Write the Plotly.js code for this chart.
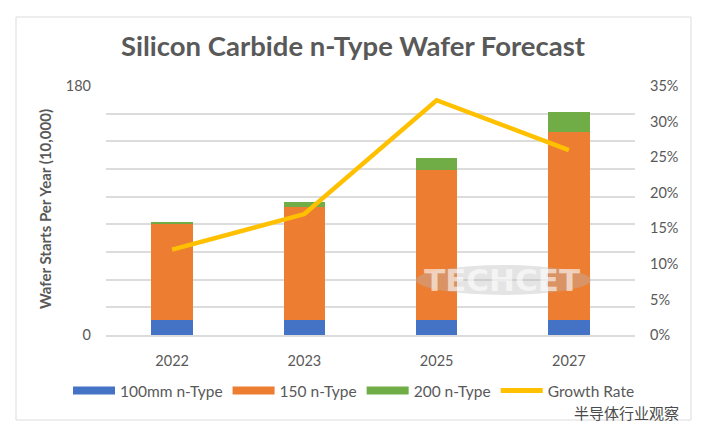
<!DOCTYPE html>
<html>
<head>
<meta charset="utf-8">
<script src="https://cdn.plot.ly/plotly-3.0.1.min.js"></script>
<style>
  html, body { margin: 0; padding: 0; background: #ffffff; }
  #chart { width: 704px; height: 433px; }
</style>
</head>
<body>
<div id="chart"></div>
<script>
// ---- data ----
const years = ['2022', '2023', '2025', '2027'];
const wafer100 = [11, 11, 11, 11];
const wafer150 = [69, 81.5, 108.5, 136];
const wafer200 = [2, 4, 8.5, 14];
const growthRate = [0.12, 0.17, 0.33, 0.26];
const leftTickVals = [0, 20, 40, 60, 80, 100, 120, 140, 160, 180];
const leftTickText = ['0', '', '', '', '', '', '', '', '', '180'];
const seriesNames = ['100mm n-Type', '150 n-Type', '200 n-Type', 'Growth Rate'];

const cBlue = '#4472C4', cOrange = '#ED7D31', cGreen = '#70AD47', cGold = '#FFC000';
const txt = '#595959';
const grid = '#dcdcdc';
const FONT = 'Lato, "Open Sans", sans-serif';

const barBase = { type: 'bar', x: years, showlegend: false, hoverinfo: 'y+name' };
const traces = [
  Object.assign({}, barBase, { name: seriesNames[0], y: wafer100, marker: { color: cBlue }, legendgroup: 'a' }),
  Object.assign({}, barBase, { name: seriesNames[1], y: wafer150, marker: { color: cOrange }, legendgroup: 'b' }),
  Object.assign({}, barBase, { name: seriesNames[2], y: wafer200, marker: { color: cGreen }, legendgroup: 'c' }),
  { type: 'scatter', mode: 'lines', name: seriesNames[3], x: years, y: growthRate, yaxis: 'y2',
    line: { color: cGold, width: 4.5 }, showlegend: false, legendgroup: 'd' },
  // legend entries (wide swatches like the original)
  { type: 'scatter', mode: 'lines', name: seriesNames[0], x: [null], y: [null], line: { color: cBlue, width: 8 }, legendgroup: 'a' },
  { type: 'scatter', mode: 'lines', name: seriesNames[1], x: [null], y: [null], line: { color: cOrange, width: 8 }, legendgroup: 'b' },
  { type: 'scatter', mode: 'lines', name: seriesNames[2], x: [null], y: [null], line: { color: cGreen, width: 8 }, legendgroup: 'c' },
  { type: 'scatter', mode: 'lines', name: seriesNames[3], x: [null], y: [null], yaxis: 'y2', line: { color: cGold, width: 5 }, legendgroup: 'd' }
];

const L = 106, R = 69, T = 86, B = 98;
const W = 704 - L - R, H = 433 - T - B;
const px = v => (v - L) / W;
const py = v => (433 - B - v) / H;

const layout = {
  width: 704, height: 433,
  margin: { l: L, r: R, t: T, b: B, pad: 0 },
  paper_bgcolor: '#ffffff', plot_bgcolor: '#ffffff',
  font: { family: FONT, color: txt, size: 14 },
  barmode: 'stack',
  bargap: 0.685,
  title: {
    text: '<b>Silicon Carbide n-Type Wafer Forecast</b>',
    font: { family: FONT, size: 27.5, color: txt },
    x: 353 / 704, xref: 'container', xanchor: 'center',
    y: 1 - 46 / 433, yref: 'container', yanchor: 'middle'
  },
  xaxis: {
    type: 'category', categoryorder: 'array', categoryarray: years,
    showgrid: false, showline: true, linecolor: grid, linewidth: 2,
    ticks: '', tickfont: { family: FONT, size: 14.5, color: txt },
    ticklabelstandoff: 12, fixedrange: true
  },
  yaxis: {
    range: [0, 180], tickmode: 'array', tickvals: leftTickVals, ticktext: leftTickText,
    showgrid: true, gridcolor: grid, gridwidth: 2,
    zeroline: false, showline: false, ticks: '',
    tickfont: { family: FONT, size: 14.5, color: txt },
    ticklabelstandoff: 14, fixedrange: true
  },
  yaxis2: {
    overlaying: 'y', side: 'right', range: [0, 0.35], dtick: 0.05, tick0: 0,
    tickformat: '.0%', showgrid: false, zeroline: false, showline: false, ticks: '',
    tickfont: { family: FONT, size: 14.5, color: txt },
    ticklabelstandoff: 14, fixedrange: true
  },
  legend: {
    orientation: 'h', xref: 'paper', x: px(68), xanchor: 'left',
    yref: 'paper', y: py(391), yanchor: 'middle',
    font: { family: FONT, size: 15.5, color: txt }, itemwidth: 42,
    traceorder: 'normal', bgcolor: 'rgba(0,0,0,0)', tracegroupgap: 0
  },
  shapes: [
    { type: 'rect', xref: 'paper', yref: 'paper', x0: px(16), x1: px(691), y0: py(420), y1: py(17),
      line: { color: grid, width: 1 }, fillcolor: 'rgba(0,0,0,0)', layer: 'below' },
    { type: 'circle', xref: 'paper', yref: 'paper', x0: px(416), x1: px(591), y0: py(295), y1: py(265),
      line: { width: 0 }, fillcolor: 'rgba(185,185,185,0.38)', layer: 'above' }
  ],
  annotations: [
    { text: '<b>Wafer Starts Per Year (10,000)</b>', xref: 'paper', yref: 'paper',
      x: px(45), y: py(209), textangle: -90, showarrow: false, xanchor: 'center', yanchor: 'middle',
      font: { family: FONT, size: 15, color: txt } },
    { text: '<b>TECHCET</b>', xref: 'paper', yref: 'paper', x: px(502), y: py(280),
      showarrow: false, xanchor: 'center', yanchor: 'middle',
      font: { family: '"DejaVu Sans", sans-serif', size: 31, color: 'rgba(255,255,255,0.6)' } },
    { text: '半导体行业观察', xref: 'paper', yref: 'paper', x: px(626), y: py(412), borderpad: 0,
      showarrow: false, xanchor: 'center', yanchor: 'middle',
      font: { family: '"Noto Sans CJK SC", sans-serif', size: 15, color: '#4a4a4a' } }
  ],
  hovermode: 'closest'
};

Plotly.newPlot('chart', traces, layout, { displayModeBar: false, staticPlot: true });
</script>
</body>
</html>
